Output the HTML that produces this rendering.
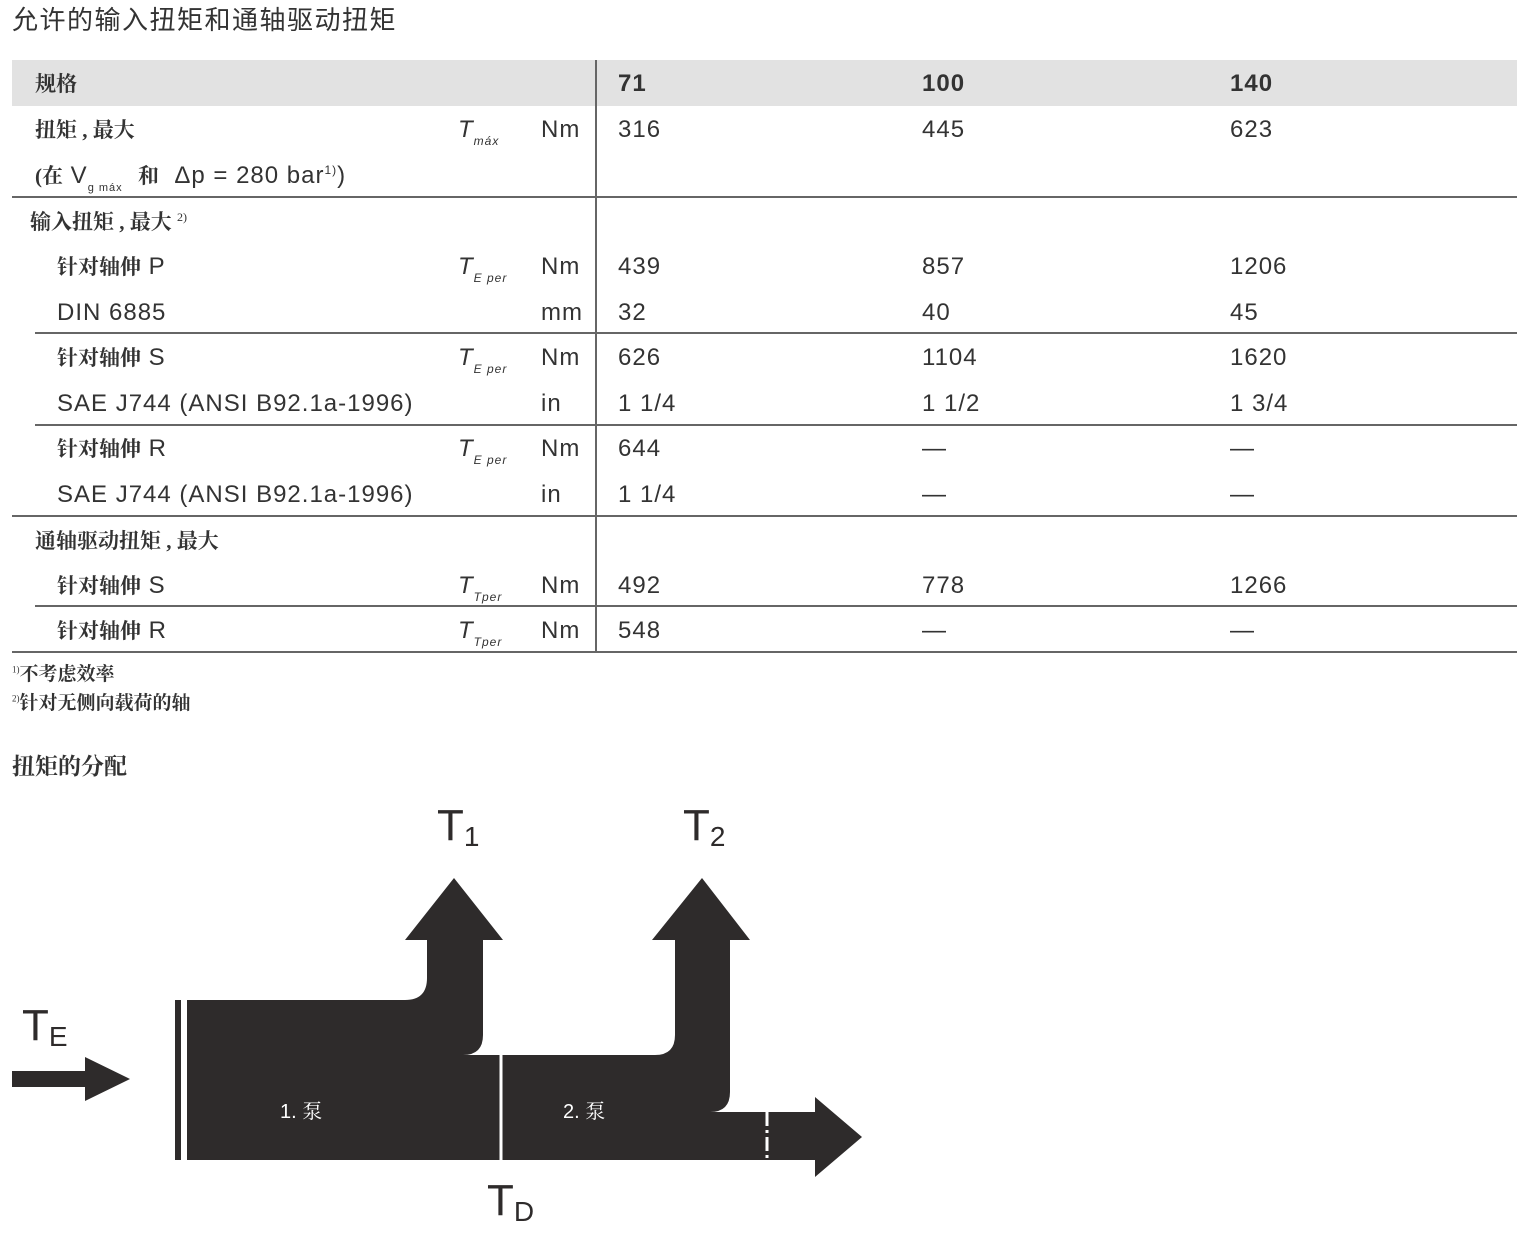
<!DOCTYPE html>
<html><head><meta charset="utf-8"><style>
body{margin:0;width:1538px;height:1238px;background:#fff;position:relative;overflow:hidden;font-family:"Liberation Sans","Noto Sans CJK SC",sans-serif;color:#333;}
.t{position:absolute;line-height:30px;height:30px;font-size:24px;white-space:nowrap;letter-spacing:1px;}
.c{font-family:"Liberation Serif","Noto Serif CJK SC",serif;font-weight:bold;font-size:21px;letter-spacing:0;}
.s{font-style:italic;}
.s sub{font-size:12px;vertical-align:-8px;line-height:0;}
sub,sup{line-height:0;}
.h{position:absolute;height:2px;background:#666;}
</style></head><body>
<div class="t" style="left:12px;top:5px;font-size:26px;letter-spacing:1.5px;font-family:'Liberation Sans','Noto Sans CJK SC',sans-serif">允许的输入扭矩和通轴驱动扭矩</div>
<div style="position:absolute;left:12px;top:60px;width:1505px;height:46px;background:#e2e2e2"></div>
<div style="position:absolute;left:595px;top:60px;width:2px;height:593px;background:#666"></div>
<div class="h" style="left:12px;width:1505px;top:196px"></div>
<div class="h" style="left:35px;width:1482px;top:332px"></div>
<div class="h" style="left:35px;width:1482px;top:424px"></div>
<div class="h" style="left:12px;width:1505px;top:515px"></div>
<div class="h" style="left:35px;width:1482px;top:605px"></div>
<div class="h" style="left:12px;width:1505px;top:651px"></div>

<div class="t c" style="left:35px;top:69px">规格</div>
<div class="t" style="left:618px;top:69px;font-weight:bold">71</div>
<div class="t" style="left:922px;top:69px;font-weight:bold">100</div>
<div class="t" style="left:1230px;top:69px;font-weight:bold">140</div>

<div class="t c" style="left:35px;top:115px">扭矩 , 最大</div>
<div class="t s" style="left:458px;top:115px">T<sub>máx</sub></div>
<div class="t" style="left:541px;top:115px">Nm</div>
<div class="t" style="left:618px;top:115px">316</div><div class="t" style="left:922px;top:115px">445</div><div class="t" style="left:1230px;top:115px">623</div>
<div class="t" style="left:35px;top:161px"><span class="c">(在</span> V<sub style="font-size:11px;vertical-align:-8px">g máx</sub> &nbsp;<span class="c">和</span> &nbsp;Δp = 280 bar<sup style="font-size:12px">1)</sup>)</div>

<div class="t c" style="left:30px;top:207px">输入扭矩 , 最大 <sup style="font-size:12px;font-weight:normal">2)</sup></div>
<div class="t" style="left:57px;top:252px"><span class="c">针对轴伸</span> P</div>
<div class="t s" style="left:458px;top:252px">T<sub>E per</sub></div>
<div class="t" style="left:541px;top:252px">Nm</div>
<div class="t" style="left:618px;top:252px">439</div><div class="t" style="left:922px;top:252px">857</div><div class="t" style="left:1230px;top:252px">1206</div>
<div class="t" style="left:57px;top:298px">DIN 6885</div>
<div class="t" style="left:541px;top:298px">mm</div>
<div class="t" style="left:618px;top:298px">32</div><div class="t" style="left:922px;top:298px">40</div><div class="t" style="left:1230px;top:298px">45</div>

<div class="t" style="left:57px;top:343px"><span class="c">针对轴伸</span> S</div>
<div class="t s" style="left:458px;top:343px">T<sub>E per</sub></div>
<div class="t" style="left:541px;top:343px">Nm</div>
<div class="t" style="left:618px;top:343px">626</div><div class="t" style="left:922px;top:343px">1104</div><div class="t" style="left:1230px;top:343px">1620</div>
<div class="t" style="left:57px;top:389px">SAE J744 (ANSI B92.1a-1996)</div>
<div class="t" style="left:541px;top:389px">in</div>
<div class="t" style="left:618px;top:389px">1 1/4</div><div class="t" style="left:922px;top:389px">1 1/2</div><div class="t" style="left:1230px;top:389px">1 3/4</div>

<div class="t" style="left:57px;top:434px"><span class="c">针对轴伸</span> R</div>
<div class="t s" style="left:458px;top:434px">T<sub>E per</sub></div>
<div class="t" style="left:541px;top:434px">Nm</div>
<div class="t" style="left:618px;top:434px">644</div><div class="t" style="left:922px;top:434px">—</div><div class="t" style="left:1230px;top:434px">—</div>
<div class="t" style="left:57px;top:480px">SAE J744 (ANSI B92.1a-1996)</div>
<div class="t" style="left:541px;top:480px">in</div>
<div class="t" style="left:618px;top:480px">1 1/4</div><div class="t" style="left:922px;top:480px">—</div><div class="t" style="left:1230px;top:480px">—</div>

<div class="t c" style="left:35px;top:526px">通轴驱动扭矩 , 最大</div>
<div class="t" style="left:57px;top:571px"><span class="c">针对轴伸</span> S</div>
<div class="t s" style="left:458px;top:571px">T<sub>Tper</sub></div>
<div class="t" style="left:541px;top:571px">Nm</div>
<div class="t" style="left:618px;top:571px">492</div><div class="t" style="left:922px;top:571px">778</div><div class="t" style="left:1230px;top:571px">1266</div>
<div class="t" style="left:57px;top:616px"><span class="c">针对轴伸</span> R</div>
<div class="t s" style="left:458px;top:616px">T<sub>Tper</sub></div>
<div class="t" style="left:541px;top:616px">Nm</div>
<div class="t" style="left:618px;top:616px">548</div><div class="t" style="left:922px;top:616px">—</div><div class="t" style="left:1230px;top:616px">—</div>

<div class="t c" style="left:12px;top:660px;font-size:19px"><sup style="font-size:9px;font-weight:normal">1)</sup>不考虑效率</div>
<div class="t c" style="left:12px;top:689px;font-size:19px"><sup style="font-size:9px;font-weight:normal">2)</sup>针对无侧向载荷的轴</div>
<div class="t c" style="left:12px;top:752px;font-size:23px">扭矩的分配</div>

<svg style="position:absolute;left:0;top:0" width="1538" height="1238">
<g fill="#2e2b2b">
<path d="M12,1071 H85 V1057 L130,1079 L85,1101 V1087 H12 Z"/>
<rect x="175" y="1000" width="6" height="160"/>
<path d="M187,1000 H405 Q427,1000 427,978 V940 H405 L454,878 L503,940 H483 V1035 Q483,1055 463,1055 H655 Q675,1055 675,1035 V940 H652 L702,878 L750,940 H730 V1092 Q730,1112 710,1112 H815 V1097 L862,1137 L815,1177 V1160 H187 Z"/>
</g>
<g stroke="#fff" stroke-width="3">
<line x1="501" y1="1055" x2="501" y2="1160"/>
<line x1="767" y1="1112" x2="767" y2="1160" stroke-dasharray="14,4,3,4"/>
</g>
<g fill="#2e2b2b" font-family="Liberation Sans,sans-serif">
<text x="437" y="840" font-size="44">T<tspan font-size="28" dy="6">1</tspan></text>
<text x="683" y="840" font-size="44">T<tspan font-size="28" dy="6">2</tspan></text>
<text x="22" y="1040" font-size="44">T<tspan font-size="28" dy="6">E</tspan></text>
<text x="487" y="1215" font-size="44">T<tspan font-size="28" dy="6">D</tspan></text>
</g>
<g fill="#fff" font-size="20" font-family="Liberation Sans,Noto Serif CJK SC,serif">
<text x="280" y="1118">1. 泵</text>
<text x="563" y="1118">2. 泵</text>
</g>
</svg>
</body></html>
